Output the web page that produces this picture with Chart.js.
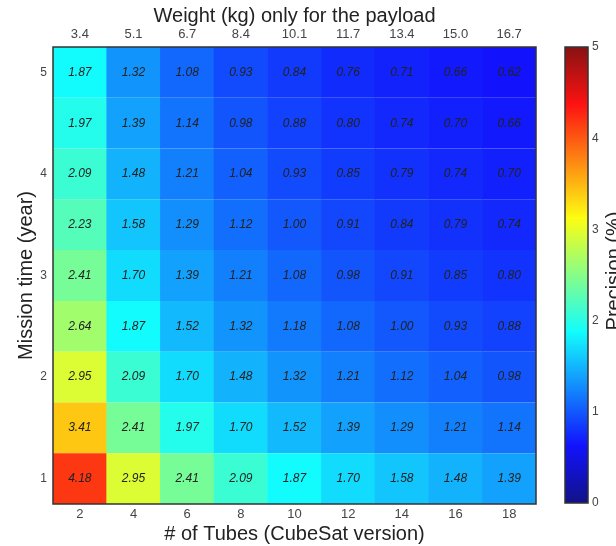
<!DOCTYPE html>
<html lang="en">
<head>
  <meta charset="UTF-8">
  <title>Precision vs. tubes and mission time</title>
  <script src="https://cdn.jsdelivr.net/npm/chart.js"></script>
  <style>
    html, body { margin: 0; padding: 0; background: #fff; }
    .wrap { position: relative; width: 616px; height: 546px; overflow: hidden; }
    #heatChart { position: absolute; left: 0; top: 0; }
    #scaleChart { position: absolute; left: 555px; top: 0; }
  </style>
</head>
<body>
<div class="wrap">
  <canvas id="heatChart" width="616" height="546"></canvas>
  <canvas id="scaleChart" width="61" height="546"></canvas>
</div>

<script>
  const tubes = ['2', '4', '6', '8', '10', '12', '14', '16', '18'];
  const weights = ['3.4', '5.1', '6.7', '8.4', '10.1', '11.7', '13.4', '15.0', '16.7'];
  const missionYears = [1, 1.5, 2, 2.5, 3, 3.5, 4, 4.5, 5];
  const yearTicks = [1, 2, 3, 4, 5];
  const colorTicks = [0, 1, 2, 3, 4, 5];

  // one row per mission time, bottom (1 year) to top (5 years)
  const precision = [
    [4.18, 2.95, 2.41, 2.09, 1.87, 1.70, 1.58, 1.48, 1.39],
    [3.41, 2.41, 1.97, 1.70, 1.52, 1.39, 1.29, 1.21, 1.14],
    [2.95, 2.09, 1.70, 1.48, 1.32, 1.21, 1.12, 1.04, 0.98],
    [2.64, 1.87, 1.52, 1.32, 1.18, 1.08, 1.00, 0.93, 0.88],
    [2.41, 1.70, 1.39, 1.21, 1.08, 0.98, 0.91, 0.85, 0.80],
    [2.23, 1.58, 1.29, 1.12, 1.00, 0.91, 0.84, 0.79, 0.74],
    [2.09, 1.48, 1.21, 1.04, 0.93, 0.85, 0.79, 0.74, 0.70],
    [1.97, 1.39, 1.14, 0.98, 0.88, 0.80, 0.74, 0.70, 0.66],
    [1.87, 1.32, 1.08, 0.93, 0.84, 0.76, 0.71, 0.66, 0.62]
  ];

  const FONT = '"Liberation Sans", Arial, sans-serif';
  Chart.defaults.font.family = FONT;
  const colorMax = colorTicks[colorTicks.length - 1];
  const halfStep = (missionYears[1] - missionYears[0]) / 2;

  // matlab style jet colormap, a little washed out like the scan
  function jet(t) {
    const c = v => Math.round(18 + 0.92 * 255 * Math.max(0, Math.min(1, v)));
    return 'rgb(' + c(1.5 - Math.abs(4 * t - 3)) + ',' + c(1.5 - Math.abs(4 * t - 2)) + ',' + c(1.5 - Math.abs(4 * t - 1)) + ')';
  }

  const frame = {
    id: 'frame',
    afterDraw(chart) {
      const a = chart.chartArea, ctx = chart.ctx;
      ctx.save();
      ctx.strokeStyle = '#333';
      ctx.lineWidth = 1.5;
      ctx.strokeRect(a.left, a.top, a.right - a.left, a.bottom - a.top);
      ctx.restore();
    }
  };

  const cellText = {
    id: 'cellText',
    afterDatasetsDraw(chart) {
      const ctx = chart.ctx;
      ctx.save();
      ctx.font = 'italic 12px ' + FONT;
      ctx.fillStyle = '#222';
      ctx.textAlign = 'center';
      ctx.textBaseline = 'middle';
      chart.data.datasets.forEach((ds, i) => {
        chart.getDatasetMeta(i).data.forEach((bar, j) => {
          const p = bar.getCenterPoint();
          ctx.fillText(precision[i][j].toFixed(2), p.x, p.y);
        });
      });
      ctx.restore();
    }
  };

  const tickStyle = { color: '#444', font: { size: 13 } };
  const titleStyle = { display: true, color: '#222', font: { size: 20 } };

  new Chart(document.getElementById('heatChart'), {
    type: 'bar',
    data: {
      labels: tubes,
      datasets: missionYears.map((yr, i) => ({
        label: yr + ' year',
        data: precision[i].map(() => [yr - halfStep, yr + halfStep]),
        backgroundColor: precision[i].map(v => jet(v / colorMax)),
        borderWidth: 0,
        grouped: false,
        barPercentage: 1.01,
        categoryPercentage: 1
      }))
    },
    options: {
      responsive: false,
      animation: false,
      events: [],
      layout: { padding: { left: 0, right: 80, top: 0, bottom: 0 } },
      plugins: { legend: { display: false }, tooltip: { enabled: false } },
      scales: {
        x: {
          type: 'category',
          position: 'bottom',
          offset: true,
          grid: { display: false, drawTicks: false },
          border: { display: false },
          ticks: { ...tickStyle, padding: 3 },
          title: { ...titleStyle, text: '# of Tubes (CubeSat version)', padding: { top: 0, bottom: 0 } },
          afterFit: s => { s.height = 42; }
        },
        x2: {
          type: 'category',
          labels: weights,
          position: 'top',
          offset: true,
          grid: { display: false, drawTicks: false },
          border: { display: false },
          ticks: { ...tickStyle, padding: 5 },
          title: { ...titleStyle, text: 'Weight (kg) only for the payload', padding: { top: 4, bottom: 0 } },
          afterFit: s => { s.height = 47; }
        },
        y: {
          type: 'linear',
          min: missionYears[0] - halfStep,
          max: missionYears[missionYears.length - 1] + halfStep,
          afterBuildTicks: s => { s.ticks = yearTicks.map(v => ({ value: v })); },
          grid: { display: false, drawTicks: false },
          border: { display: false },
          ticks: { color: '#444', font: { size: 12 }, padding: 6 },
          title: { ...titleStyle, text: 'Mission time (year)', padding: { top: 14, bottom: 0 } },
          afterFit: s => { s.width = 53; }
        }
      }
    },
    plugins: [cellText, frame]
  });

  function jetGradient(context) {
    const chart = context.chart;
    const y = chart.scales.y;
    if (!chart.chartArea || !y) return jet(0.5);
    const y0 = y.getPixelForValue(colorTicks[0]);
    const y1 = y.getPixelForValue(colorMax);
    if (!Number.isFinite(y0) || !Number.isFinite(y1)) return jet(0.5);
    const g = chart.ctx.createLinearGradient(0, y0, 0, y1);
    for (let k = 0; k <= 40; k++) g.addColorStop(k / 40, jet(k / 40));
    return g;
  }

  const barTitle = {
    id: 'barTitle',
    afterDraw(chart) {
      const ctx = chart.ctx, a = chart.chartArea;
      ctx.save();
      ctx.translate(49, (a.top + a.bottom) / 2 - 4);
      ctx.rotate(-Math.PI / 2);
      ctx.font = '20px ' + FONT;
      ctx.fillStyle = '#222';
      ctx.textAlign = 'center';
      ctx.textBaseline = 'top';
      ctx.fillText('Precision (%)', 0, 0);
      ctx.restore();
    }
  };

  new Chart(document.getElementById('scaleChart'), {
    type: 'bar',
    data: {
      labels: [''],
      datasets: [{
        data: [[colorTicks[0], colorMax]],
        backgroundColor: jetGradient,
        borderWidth: 0,
        barPercentage: 1,
        categoryPercentage: 1
      }]
    },
    options: {
      responsive: false,
      animation: false,
      events: [],
      layout: { padding: { left: 10, right: 0, top: 47, bottom: 43 } },
      plugins: { legend: { display: false }, tooltip: { enabled: false } },
      scales: {
        x: { display: false },
        y: {
          position: 'right',
          min: colorTicks[0],
          max: colorMax,
          afterBuildTicks: s => { s.ticks = colorTicks.map(v => ({ value: v })); },
          grid: { display: false, drawTicks: false },
          border: { display: false },
          ticks: { color: '#444', font: { size: 12 }, padding: 4 },
          afterFit: s => { s.width = 28; }
        }
      }
    },
    plugins: [frame, barTitle]
  });
</script>
</body>
</html>
